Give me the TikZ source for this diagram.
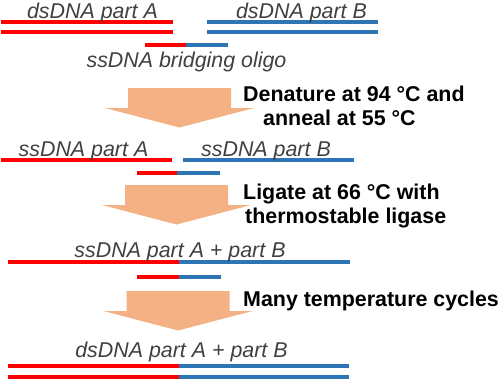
\documentclass[tikz,border=0pt]{standalone}
\usepackage{fontspec}
\setmainfont{Liberation Sans}
\usepackage{tikz}
\definecolor{strandred}{RGB}{255,0,0}
\definecolor{strandblue}{RGB}{46,117,182}
\definecolor{peach}{RGB}{244,177,131}
\definecolor{labelgray}{RGB}{64,64,64}
\tikzset{
    partA/.style = {draw=strandred, line width=3.3pt},
    partB/.style = {draw=strandblue, line width=3.3pt},
    seqlabel/.style = {font=\fontsize{21.4}{24}\selectfont\itshape,
        text=labelgray, inner sep=0pt, anchor=base},
    stepnote/.style = {font=\fontsize{21.4}{24}\selectfont\bfseries,
        inner sep=0pt, anchor=base west},
    blockarrow/.style = {fill=peach, draw=none},
}

\begin{document}
\begin{tikzpicture}[x=1pt,y=-1pt]
\useasboundingbox (0,0) rectangle (500,380);

  %% Step arrows
  \foreach \cx/\yt in {179.5/88, 176.5/185, 178/291}{
    \fill[blockarrow] (\cx-51.5,\yt) -- (\cx+51.5,\yt) -- (\cx+51.5,\yt+20)
        -- (\cx+74.5,\yt+20) -- (\cx,\yt+39.5) -- (\cx-74.5,\yt+20)
        -- (\cx-51.5,\yt+20) -- cycle;
  }

  %% Double strands A and B
  \foreach \y in {22,32}{
    \draw[partA] (1,\y) -- (173,\y);
    \draw[partB] (207,\y) -- (378,\y);
  }
  \node[seqlabel] (dsA) at (92.5,18) {dsDNA part A};
  \node[seqlabel] (dsB) at (301.5,18) {dsDNA part B};

  %% Bridging oligos
  \foreach \xa/\xm/\xb/\y in {145/186/228/45,
                              137/177/220/173,
                              137/179/221/277}{
    \draw[partA] (\xa,\y) -- (\xm,\y);
    \draw[partB] (\xm,\y) -- (\xb,\y);
  }
  \node[seqlabel] (oligo) at (186.5,67) {ssDNA bridging oligo};

  %% Step 1
  \node[stepnote] (denat) at (243,101) {Denature at 94 °C and};
  \node[stepnote] (anneal) at (263,125) {anneal at 55 °C};

  \draw[partA] (1,160) -- (172,160);
  \draw[partB] (183,160) -- (354,160);
  \node[seqlabel] (ssA) at (83.5,156) {ssDNA part A};
  \node[seqlabel] (ssB) at (266,156) {ssDNA part B};

  %% Step 2
  \node[stepnote] (ligate) at (243,199) {Ligate at 66 °C with};
  \node[stepnote] (ligase) at (245,223) {thermostable ligase};

  \draw[partA] (8,262) -- (179,262);
  \draw[partB] (179,262) -- (350,262);
  \node[seqlabel] (ssAB) at (180,257) {ssDNA part A + part B};

  %% Step 3
  \node[stepnote] (cycles) at (243,306) {Many temperature cycles};

  \foreach \y in {366,377}{
    \draw[partA] (8,\y) -- (179,\y);
    \draw[partB] (179,\y) -- (349,\y);
  }
  \node[seqlabel] (dsAB) at (181.5,357) {dsDNA part A + part B};

\end{tikzpicture}
\end{document}
